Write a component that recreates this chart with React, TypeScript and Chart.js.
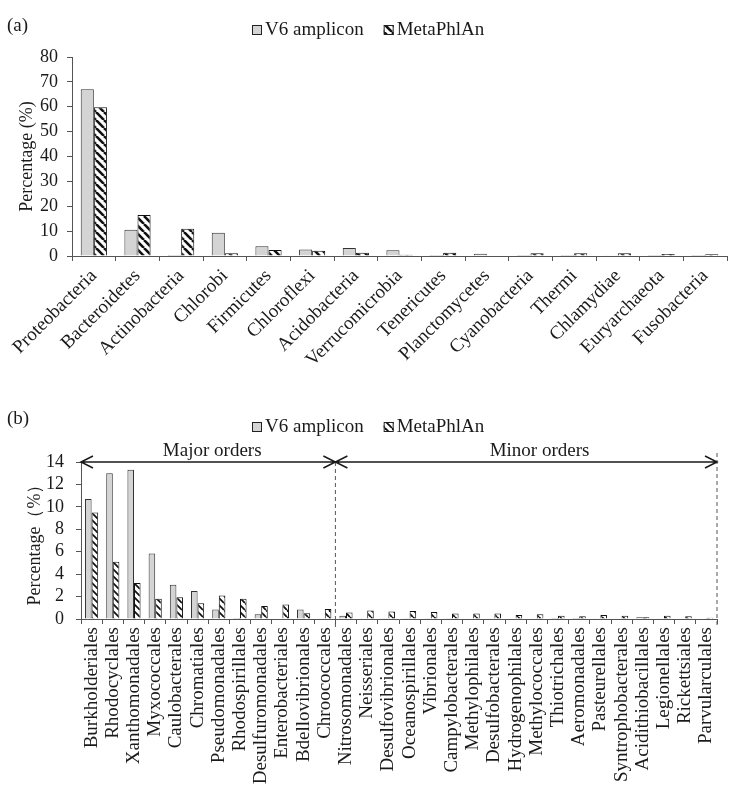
import React, { useEffect, useRef } from "react";
import { Chart, registerables } from "chart.js";

Chart.register(...registerables);

// ---------- Data ----------
const phylaLabels = [
  "Proteobacteria", "Bacteroidetes", "Actinobacteria", "Chlorobi", "Firmicutes",
  "Chloroflexi", "Acidobacteria", "Verrucomicrobia", "Tenericutes", "Planctomycetes",
  "Cyanobacteria", "Thermi", "Chlamydiae", "Euryarchaeota", "Fusobacteria",
];
const phylaV6 = [67, 10.6, 0.4, 9.3, 3.9, 2.6, 3.2, 2.3, 0.05, 0.9, 0.05, 0.05, 0.1, 0.05, 0.05];
const phylaMeta = [59.8, 16.5, 11.0, 1.1, 2.4, 2.1, 1.3, 0.5, 1.3, 0.2, 1.1, 1.1, 1.1, 0.8, 0.7];
const phylaTicks = { min: 0, max: 80, step: 10 };

const orderLabels = [
  "Burkholderiales", "Rhodocyclales", "Xanthomonadales", "Myxococcales", "Caulobacterales",
  "Chromatiales", "Pseudomonadales", "Rhodospirillales", "Desulfuromonadales", "Enterobacteriales",
  "Bdellovibrionales", "Chroococcales", "Nitrosomonadales", "Neisseriales", "Desulfovibrionales",
  "Oceanospirillales", "Vibrionales", "Campylobacterales", "Methylophilales", "Desulfobacterales",
  "Hydrogenophilales", "Methylococcales", "Thiotrichales", "Aeromonadales", "Pasteurellales",
  "Syntrophobacterales", "Acidithiobacillales", "Legionellales", "Rickettsiales", "Parvularculales",
];
const orderV6 = [
  10.7, 13.0, 13.3, 5.85, 3.05, 2.5, 0.85, 0.1, 0.42, 0.05,
  0.85, 0.02, 0.3, 0.02, 0.03, 0.03, 0.03, 0.03, 0.02, 0.02,
  0.05, 0.02, 0.1, 0.1, 0.02, 0.05, 0.15, 0.02, 0.05, 0.02,
];
const orderMeta = [
  9.5, 5.1, 3.2, 1.8, 1.95, 1.4, 2.1, 1.8, 1.16, 1.3,
  0.52, 0.9, 0.58, 0.75, 0.66, 0.72, 0.62, 0.48, 0.48, 0.48,
  0.36, 0.42, 0.3, 0.24, 0.36, 0.3, 0.15, 0.3, 0.24, 0.12,
];
const orderTicks = { min: 0, max: 14, step: 2 };
const majorCount = 12; // first 12 orders are "Major orders"

const seriesNames = ["V6 amplicon", "MetaPhlAn"];

// ---------- Styles ----------
const FONT = '"Liberation Serif", "Times New Roman", serif';
const TEXT = "#1a1a1a";
const AXIS = "#555";

function makeHatch(size: number, lw: number) {
  const c = document.createElement("canvas");
  c.width = size;
  c.height = size;
  const g = c.getContext("2d")!;
  g.fillStyle = "#fff";
  g.fillRect(0, 0, size, size);
  g.strokeStyle = "#111";
  g.lineWidth = lw;
  for (const x0 of [-size, 0, size]) {
    g.beginPath();
    g.moveTo(x0, 0);
    g.lineTo(x0 + size, size);
    g.stroke();
  }
  return g.createPattern(c, "repeat")!;
}

const legendPlugin = {
  id: "panelLegend",
  afterDraw(chart: any, _args: any, opts: any) {
    const ctx = chart.ctx;
    ctx.save();
    ctx.font = `${opts.size}px ${FONT}`;
    ctx.textBaseline = "middle";
    ctx.textAlign = "left";
    ctx.fillStyle = TEXT;
    ctx.fillText(opts.panel, 7, opts.panelY);
    let x = opts.x;
    chart.data.datasets.forEach((ds: any) => {
      const b = 10;
      ctx.fillStyle = ds.backgroundColor;
      ctx.fillRect(x, opts.y - b / 2, b, b);
      ctx.strokeStyle = "#222";
      ctx.lineWidth = 1;
      ctx.strokeRect(x + 0.5, opts.y - b / 2 + 0.5, b - 1, b - 1);
      ctx.fillStyle = TEXT;
      ctx.fillText(ds.label, x + b + 3, opts.y);
      x += b + 3 + ctx.measureText(ds.label).width + 20;
    });
    ctx.restore();
  },
};

const ordersPlugin = {
  id: "ordersAnnot",
  afterDraw(chart: any, _args: any, opts: any) {
    if (!opts || !opts.enabled) return;
    const { ctx, chartArea, scales } = chart;
    const x = scales.x;
    const y = scales.y;
    const yl = y.getPixelForValue(orderTicks.max);
    const xl = chartArea.left;
    const xr = chartArea.right;
    const xd = (x.getPixelForValue(majorCount - 1) + x.getPixelForValue(majorCount)) / 2;
    ctx.save();
    // dashed dividers
    ctx.strokeStyle = "#555";
    ctx.lineWidth = 1;
    ctx.setLineDash([4, 3]);
    ctx.beginPath();
    ctx.moveTo(xd, yl);
    ctx.lineTo(xd, chartArea.bottom + 9);
    ctx.moveTo(xr, yl - 9);
    ctx.lineTo(xr, chartArea.bottom + 9);
    ctx.stroke();
    ctx.setLineDash([]);
    // arrows
    ctx.strokeStyle = "#1a1a1a";
    ctx.lineWidth = 1.5;
    ctx.beginPath();
    ctx.moveTo(xl, yl);
    ctx.lineTo(xr, yl);
    const head = (px: number, dir: number) => {
      ctx.moveTo(px - dir * 12, yl - 6);
      ctx.lineTo(px, yl);
      ctx.lineTo(px - dir * 12, yl + 6);
    };
    head(xl, -1);
    head(xd, 1);
    head(xd, -1);
    head(xr, 1);
    ctx.stroke();
    ctx.fillStyle = TEXT;
    ctx.font = `19px ${FONT}`;
    ctx.textAlign = "center";
    ctx.textBaseline = "alphabetic";
    ctx.fillText("Major orders", (xl + xd) / 2 + 4, yl - 6);
    ctx.fillText("Minor orders", xd + (xr - xd) * 0.535, yl - 6);
    ctx.restore();
  },
};

type PanelCfg = {
  labels: string[];
  v6: number[];
  meta: number[];
  ticks: { min: number; max: number; step: number };
  yTitle: string;
  titlePad: number;
  tickPad: number;
  xRot: number;
  xPad: number;
  yWidth: number;
  xHeight: number;
  padding: { top: number; right: number; bottom: number; left: number };
  catPct: number;
  hatch: [number, number];
  panel: string;
  panelY: number;
  legendX: number;
  legendY: number;
  annot: boolean;
};

function Panel({ cfg, width, height }: { cfg: PanelCfg; width: number; height: number }) {
  const ref = useRef<HTMLCanvasElement>(null);
  useEffect(() => {
    if (!ref.current) return;
    const hatch = makeHatch(cfg.hatch[0], cfg.hatch[1]);
    const chart = new Chart(ref.current, {
      type: "bar",
      data: {
        labels: cfg.labels,
        datasets: [
          {
            label: seriesNames[0],
            data: cfg.v6,
            backgroundColor: "#d4d4d4",
            borderColor: "#333",
            borderWidth: 1,
            categoryPercentage: cfg.catPct,
            barPercentage: 1,
          },
          {
            label: seriesNames[1],
            data: cfg.meta,
            backgroundColor: hatch as any,
            borderColor: "#111",
            borderWidth: 1,
            categoryPercentage: cfg.catPct,
            barPercentage: 1,
          },
        ],
      },
      options: {
        responsive: false,
        animation: false,
        events: [],
        layout: { padding: cfg.padding },
        plugins: {
          legend: { display: false },
          tooltip: { enabled: false },
          panelLegend: {
            size: 19,
            x: cfg.legendX,
            y: cfg.legendY,
            panel: cfg.panel,
            panelY: cfg.panelY,
          },
          ordersAnnot: { enabled: cfg.annot },
        } as any,
        scales: {
          x: {
            offset: true,
            ticks: {
              autoSkip: false,
              minRotation: cfg.xRot,
              maxRotation: cfg.xRot,
              font: { family: FONT, size: 19 },
              color: TEXT,
              padding: cfg.xPad,
            },
            grid: {
              display: true,
              drawOnChartArea: false,
              drawTicks: true,
              tickLength: 5,
              color: AXIS,
              offset: true,
            },
            border: { display: true, color: AXIS, width: 1 },
            afterFit: (s: any) => {
              s.height = cfg.xHeight;
            },
          },
          y: {
            min: cfg.ticks.min,
            max: cfg.ticks.max,
            ticks: {
              stepSize: cfg.ticks.step,
              autoSkip: false,
              font: { family: FONT, size: 18 },
              color: TEXT,
              padding: cfg.tickPad,
            },
            grid: {
              display: true,
              drawOnChartArea: false,
              drawTicks: true,
              tickLength: 5,
              color: AXIS,
            },
            border: { display: true, color: AXIS, width: 1 },
            title: {
              display: true,
              text: cfg.yTitle,
              font: { family: FONT, size: 18 },
              color: TEXT,
              padding: { top: cfg.titlePad, bottom: 0 },
            },
            afterFit: (s: any) => {
              s.width = cfg.yWidth;
            },
          },
        },
      },
      plugins: [legendPlugin, ordersPlugin],
    });
    return () => chart.destroy();
  }, [cfg]);
  return <canvas ref={ref} width={width} height={height} style={{ display: "block" }} />;
}

const cfgA: PanelCfg = {
  labels: phylaLabels,
  v6: phylaV6,
  meta: phylaMeta,
  ticks: phylaTicks,
  yTitle: "Percentage (%)",
  titlePad: 16,
  tickPad: 9,
  xRot: 45,
  xPad: 4,
  yWidth: 72,
  xHeight: 144,
  padding: { top: 57, right: 11, bottom: 0, left: 0 },
  catPct: 0.6,
  hatch: [8, 2.6],
  panel: "(a)",
  panelY: 26,
  legendX: 252,
  legendY: 30,
  annot: false,
};

const cfgB: PanelCfg = {
  labels: orderLabels,
  v6: orderV6,
  meta: orderMeta,
  ticks: orderTicks,
  yTitle: "Percentage（%）",
  titlePad: 24,
  tickPad: 12,
  xRot: 90,
  xPad: 3,
  yWidth: 81,
  xHeight: 174,
  padding: { top: 62, right: 21, bottom: 0, left: 0 },
  catPct: 0.62,
  hatch: [7, 1.8],
  panel: "(b)",
  panelY: 19,
  legendX: 252,
  legendY: 27,
  annot: true,
};

export default function App() {
  return (
    <div
      style={{
        position: "fixed",
        left: 0,
        top: 0,
        width: 738,
        height: 793,
        background: "#fff",
      }}
    >
      <Panel cfg={cfgA} width={738} height={400} />
      <Panel cfg={cfgB} width={738} height={393} />
    </div>
  );
}
